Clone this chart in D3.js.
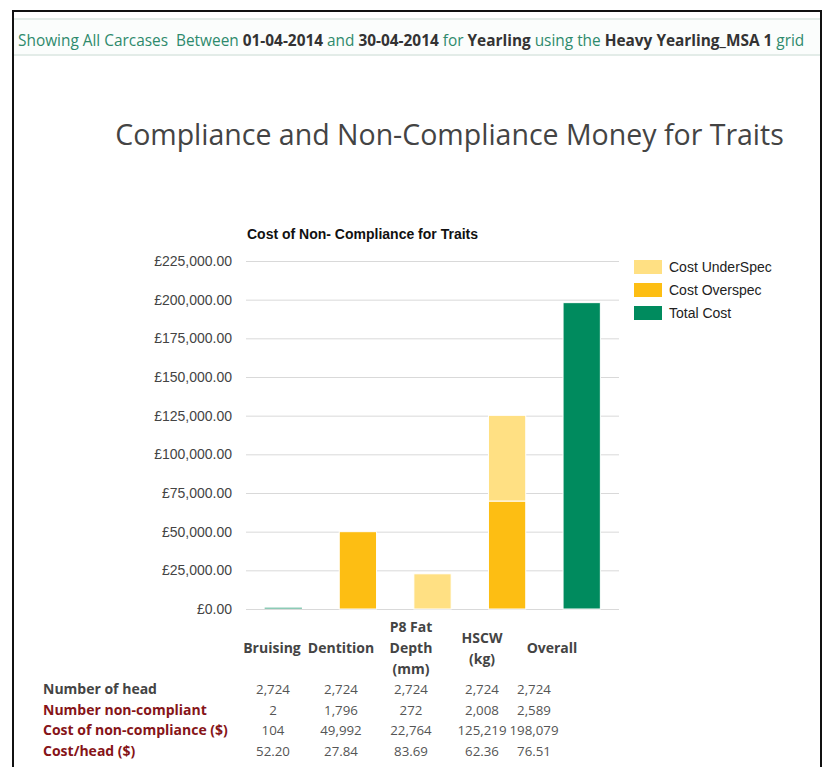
<!DOCTYPE html>
<html>
<head>
<meta charset="utf-8">
<script src="https://cdn.jsdelivr.net/npm/d3@7"></script>
<style>
  body { margin: 0; background: #fff; }
  svg text { font-family: "Open Sans", sans-serif; }
</style>
</head>
<body>
<svg id="page"></svg>
<script>
// chart data
var categories = ["Bruising", "Dentition", "P8 Fat Depth (mm)", "HSCW (kg)", "Overall"];
var categoryLines = [["Bruising"], ["Dentition"], ["P8 Fat", "Depth", "(mm)"], ["HSCW", "(kg)"], ["Overall"]];
var costUnderSpec = [0, 0, 22764, 55419, 0];
var costOverSpec = [0, 49992, 0, 69800, 0];
var totalCost = [104, 0, 0, 0, 198079];
var yTickValues = [0, 25000, 50000, 75000, 100000, 125000, 150000, 175000, 200000, 225000];
var seriesNames = ["Cost UnderSpec", "Cost Overspec", "Total Cost"];

// table data
var rowLabels = ["Number of head", "Number non-compliant", "Cost of non-compliance ($)", "Cost/head ($)"];
var numberOfHead = [2724, 2724, 2724, 2724, 2724];
var numberNonCompliant = [2, 1796, 272, 2008, 2589];
var costNonCompliance = [104, 49992, 22764, 125219, 198079];
var costPerHead = [52.20, 27.84, 83.69, 62.36, 76.51];

function drawPage() {
    var width = 825, height = 767;
    var colors = { "Cost UnderSpec": "#ffe083", "Cost Overspec": "#fdbe13", "Total Cost": "#008b5e" };

    var svg = d3.select("#page").attr("width", width).attr("height", height);

    // frame
    svg.append("rect").attr("x", 13).attr("y", 11).attr("width", 808).attr("height", 800)
        .attr("fill", "none").attr("stroke", "#111").attr("stroke-width", 2);

    // header strip
    svg.append("rect").attr("x", 14).attr("y", 18).attr("width", 806).attr("height", 37)
        .attr("fill", "#fbfdfc");
    [19, 55].forEach(function (yy) {
        svg.append("line").attr("x1", 14).attr("x2", 820).attr("y1", yy).attr("y2", yy)
            .attr("stroke", "#e3ece8").attr("stroke-width", 2);
    });
    var header = svg.append("text").attr("x", 18).attr("y", 46).style("font-size", "15.4px")
        .attr("xml:space", "preserve");
    [["Showing All Carcases  Between ", false], ["01-04-2014", true], [" and ", false], ["30-04-2014", true],
     [" for ", false], ["Yearling", true], [" using the ", false], ["Heavy Yearling_MSA 1", true], [" grid", false]]
        .forEach(function (p) {
            header.append("tspan").text(p[0])
                .attr("fill", p[1] ? "#333" : "#2e8a6c")
                .attr("font-weight", p[1] ? "bold" : "normal");
        });

    // big title
    svg.append("text").attr("x", 449.5).attr("y", 145).attr("text-anchor", "middle")
        .style("font-size", "28.5px").attr("fill", "#444")
        .text("Compliance and Non-Compliance Money for Traits");

    // chart area
    var left = 246, right = 619, top = 261, bottom = 609;
    var x = d3.scaleBand().domain(categories).range([left, right]).paddingInner(0.5).paddingOuter(0.25);
    var y = d3.scaleLinear().domain([0, 225000]).range([bottom, top]);

    svg.append("text").attr("x", 247).attr("y", 239)
        .style("font-family", "'Liberation Sans', Arial, sans-serif")
        .style("font-size", "14px").attr("font-weight", "bold").attr("fill", "#111")
        .text("Cost of Non- Compliance for Traits");

    var yAxis = svg.append("g").attr("transform", "translate(" + left + ",0)")
        .call(d3.axisLeft(y).tickValues(yTickValues)
            .tickSize(-(right - left)).tickPadding(14)
            .tickFormat(function (d) { return "£" + d3.format(",.2f")(d); }));
    yAxis.select(".domain").remove();
    yAxis.selectAll("line").attr("stroke", "#d9d9d9");
    yAxis.selectAll("text").attr("fill", "#444")
        .style("font-family", "'Liberation Sans', Arial, sans-serif").style("font-size", "14px");

    var rows = categories.map(function (c, i) {
        return { cat: c, "Cost UnderSpec": costUnderSpec[i], "Cost Overspec": costOverSpec[i], "Total Cost": totalCost[i] };
    });
    var stack = d3.stack().keys(["Cost Overspec", "Cost UnderSpec", "Total Cost"]);
    var layers = stack(rows);

    svg.append("g").selectAll("g")
        .data(layers)
        .enter().append("g")
        .attr("fill", function (d) { return colors[d.key]; })
        .selectAll("rect")
        .data(function (d) { return d.filter(function (p) { return p[1] - p[0] > 0; }); })
        .enter().append("rect")
        .attr("x", function (d) { return x(d.data.cat); })
        .attr("width", x.bandwidth())
        .attr("y", function (d) { return Math.min(y(d[1]), y(d[0]) - 1.5); })
        .attr("height", function (d) { return Math.max(y(d[0]) - y(d[1]), 1.5); })
        .attr("fill-opacity", function (d) { return y(d[0]) - y(d[1]) < 1.5 ? 0.45 : 1; })
        .attr("stroke", "#fff")
        .attr("stroke-width", function (d) { return y(d[0]) - y(d[1]) < 1.5 ? 0 : 1; });

    // legend
    var legend = svg.append("g").selectAll("g")
        .data(seriesNames)
        .enter().append("g")
        .attr("transform", function (d, i) { return "translate(634," + (260 + i * 23) + ")"; });
    legend.append("rect").attr("width", 28).attr("height", 14)
        .attr("fill", function (d) { return colors[d]; });
    legend.append("text").attr("x", 35).attr("y", 12)
        .style("font-family", "'Liberation Sans', Arial, sans-serif").style("font-size", "14px")
        .attr("fill", "#222").text(function (d) { return d; });

    // table under the chart
    var colX = [273, 341, 411, 482, 534];
    var headerX = [272, 341, 411, 482, 552];
    categoryLines.forEach(function (lines, i) {
        var t = svg.append("text").attr("text-anchor", "middle")
            .style("font-size", "14px").attr("font-weight", "bold").attr("fill", "#444");
        lines.forEach(function (ln, j) {
            t.append("tspan").attr("x", headerX[i])
                .attr("y", 653 + (j - (lines.length - 1) / 2) * 21).text(ln);
        });
    });

    var tableData = [numberOfHead, numberNonCompliant, costNonCompliance, costPerHead];
    var fmt = [d3.format(","), d3.format(","), d3.format(","), d3.format(".2f")];
    tableData.forEach(function (vals, r) {
        var yy = 694 + r * 20.7;
        svg.append("text").attr("x", 43).attr("y", yy)
            .style("font-size", "14px").attr("font-weight", "bold")
            .attr("fill", r === 0 ? "#444" : "#861418").text(rowLabels[r]);
        vals.forEach(function (v, i) {
            svg.append("text").attr("x", colX[i]).attr("y", yy).attr("text-anchor", "middle")
                .style("font-size", "13.3px").attr("fill", "#555").text(fmt[r](v));
        });
    });
}
drawPage();
</script>
</body>
</html>
